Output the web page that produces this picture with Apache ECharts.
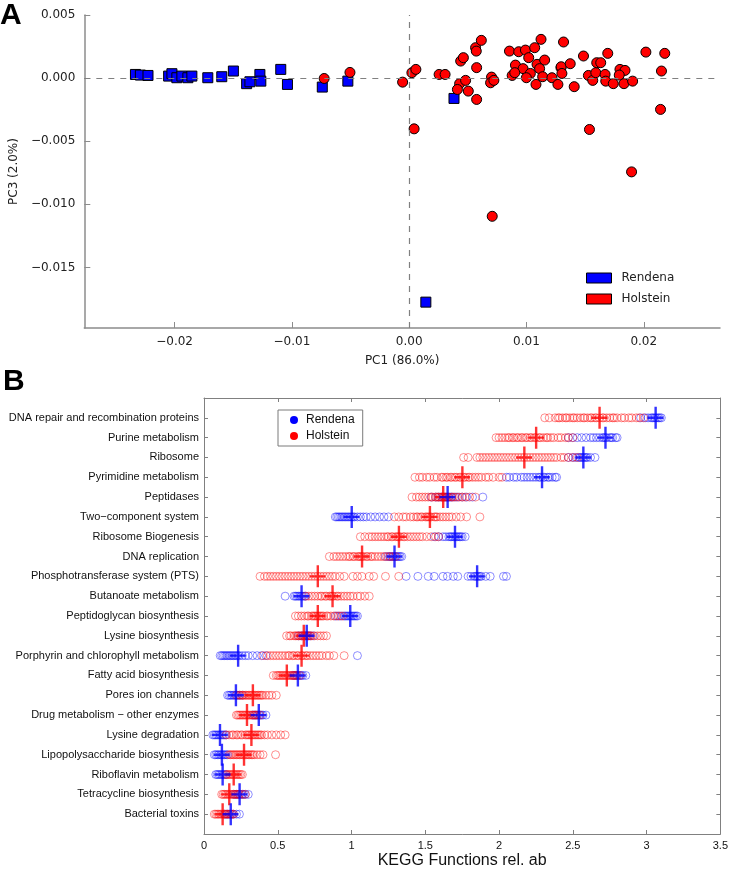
<!DOCTYPE html>
<html>
<head>
<meta charset="utf-8">
<script src="https://cdn.jsdelivr.net/npm/echarts@6/dist/echarts.min.js"></script>
<style>
html,body{margin:0;padding:0;background:#fff;}
#chart{width:731px;height:874px;}
</style>
</head>
<body>
<div id="chart"></div>
<script>
// ---------- Panel A : PCA ----------
const rendenaPC1 = [-0.02334,-0.02292,-0.02227,-0.02051,-0.02023,-0.01981,-0.01938,-0.01887,-0.01853,-0.01717,-0.01598,-0.01499,-0.01386,-0.01358,-0.01273,-0.01265,-0.01095,-0.01038,-0.00741,-0.00523,0.00382,0.00142];
const rendenaPC3 = [0.00029,0.00024,0.00021,0.00016,0.00035,0.00003,0.00016,0.00003,0.00016,0.00003,0.00011,0.00056,-0.00044,-0.00029,0.00029,-0.00024,0.00069,-0.0005,-0.00071,-0.00024,-0.00161,-0.01775];
const holsteinPC1 = [-0.00725,-0.00505,-0.00056,0.00023,0.00057,0.00042,0.00255,0.00306,0.00439,0.00462,0.00566,0.00572,0.00615,0.00575,0.0043,0.00481,0.00411,0.00504,0.00575,0.00702,0.00694,0.00722,0.00855,0.00934,0.00991,0.0107,0.01124,0.01019,0.00906,0.00971,0.01033,0.00878,0.009,0.00999,0.0109,0.01155,0.01112,0.01138,0.01081,0.01217,0.01268,0.01294,0.01316,0.01296,0.01302,0.01373,0.01407,0.01486,0.01528,0.01565,0.01591,0.01599,0.01633,0.0167,0.01676,0.0174,0.01693,0.01797,0.0184,0.01791,0.01831,0.01905,0.02018,0.02179,0.02151,0.02143,0.01537,0.01896,0.00708];
const holsteinPC3 = [-0.00003,0.00045,-0.00032,0.00043,0.00069,-0.00402,0.00029,0.00029,0.00135,0.00162,0.00241,0.00214,0.00299,0.00083,-0.00044,-0.00018,-0.0009,-0.00103,-0.00169,0.00008,-0.00037,-0.00018,0.00214,0.00209,0.00222,0.00241,0.00307,0.00162,0.00103,0.00075,0.00037,0.00021,0.00043,0.00003,0.00109,0.00143,0.00075,0.00011,-0.0005,0.00003,-0.0005,0.00083,0.00286,0.0009,0.00037,0.00114,-0.00068,0.00175,0.00021,-0.00018,0.00043,0.00122,0.00122,0.00029,-0.00024,-0.00044,0.00196,0.00069,0.00061,0.00024,-0.00044,-0.00024,0.00206,0.00196,0.00056,-0.00248,-0.00407,-0.00743,-0.01095];
const pcXTicks = [-0.02,-0.01,0,0.01,0.02];
const pcYTicks = [0.005,0,-0.005,-0.01,-0.015];

// ---------- Panel B : KEGG functions ----------
const categories = ["DNA repair and recombination proteins","Purine metabolism","Ribosome","Pyrimidine metabolism","Peptidases","Two\u2212component system","Ribosome Biogenesis","DNA replication","Phosphotransferase system (PTS)","Butanoate metabolism","Peptidoglycan biosynthesis","Lysine biosynthesis","Porphyrin and chlorophyll metabolism","Fatty acid biosynthesis","Pores ion channels","Drug metabolism \u2212 other enzymes","Lysine degradation","Lipopolysaccharide biosynthesis","Riboflavin metabolism","Tetracycline biosynthesis","Bacterial toxins"];
const rendenaMeans = [3.06,2.72,2.57,2.29,1.65,1.00,1.70,1.29,1.85,0.66,0.99,0.695,0.23,0.635,0.215,0.37,0.107,0.12,0.125,0.24,0.18];
const holsteinMeans = [2.68,2.25,2.17,1.75,1.62,1.53,1.32,1.07,0.77,0.87,0.77,0.675,0.66,0.56,0.33,0.29,0.32,0.27,0.20,0.17,0.125];
const rendenaPoints = [
 [2.96,2.99,3.01,3.03,3.04,3.05,3.06,3.07,3.08,3.09,3.10],
 [2.47,2.50,2.53,2.56,2.59,2.62,2.64,2.66,2.68,2.70,2.71,2.72,2.73,2.75,2.76,2.77,2.79,2.80],
 [2.47,2.50,2.52,2.54,2.55,2.56,2.57,2.58,2.59,2.60,2.62,2.65],
 [2.05,2.07,2.10,2.12,2.15,2.17,2.19,2.21,2.23,2.25,2.27,2.28,2.30,2.31,2.33,2.34,2.36,2.38,2.39],
 [1.54,1.57,1.59,1.61,1.62,1.63,1.64,1.65,1.66,1.67,1.68,1.70,1.72,1.75,1.78,1.82,1.89],
 [0.89,0.90,0.91,0.92,0.93,0.94,0.95,0.96,0.97,0.98,0.99,1.00,1.01,1.02,1.04,1.06,1.08,1.10,1.13,1.16,1.19,1.22,1.25],
 [1.56,1.59,1.62,1.64,1.66,1.67,1.68,1.69,1.70,1.71,1.72,1.73,1.74,1.75,1.77],
 [1.23,1.25,1.26,1.27,1.28,1.29,1.30,1.31,1.32,1.33,1.34],
 [1.37,1.45,1.52,1.56,1.62,1.65,1.69,1.72,1.79,1.81,1.83,1.84,1.85,1.86,1.87,1.88,1.91,1.94,2.03,2.05],
 [0.55,0.61,0.62,0.63,0.64,0.65,0.66,0.67,0.68,0.69],
 [0.89,0.91,0.93,0.95,0.96,0.97,0.98,0.99,1.00,1.01,1.02,1.03,1.04],
 [0.64,0.66,0.67,0.68,0.69,0.70,0.71,0.72,0.74],
 [0.11,0.12,0.13,0.14,0.15,0.16,0.17,0.18,0.19,0.20,0.21,0.22,0.23,0.24,0.26,0.28,0.30,0.33,0.36,0.39,0.42,1.04],
 [0.60,0.61,0.62,0.63,0.64,0.65,0.66,0.67,0.69],
 [0.16,0.17,0.18,0.19,0.20,0.21,0.22,0.23,0.24,0.26],
 [0.33,0.34,0.35,0.36,0.37,0.38,0.39,0.40,0.42],
 [0.06,0.07,0.08,0.09,0.10,0.11,0.12,0.13,0.14,0.15],
 [0.07,0.08,0.09,0.10,0.11,0.12,0.13,0.14,0.15,0.16],
 [0.08,0.09,0.10,0.11,0.12,0.13,0.14,0.15],
 [0.20,0.21,0.22,0.23,0.24,0.25,0.26,0.27,0.28,0.30],
 [0.14,0.15,0.16,0.17,0.18,0.19,0.20,0.22,0.24]
];
const holsteinPoints = [
 [2.31,2.34,2.38,2.40,2.41,2.43,2.45,2.46,2.48,2.50,2.51,2.53,2.55,2.57,2.58,2.60,2.62,2.63,2.65,2.66,2.68,2.70,2.71,2.73,2.75,2.77,2.78,2.80,2.83,2.85,2.88,2.90,2.93,2.95,2.98],
 [1.98,2.00,2.02,2.04,2.06,2.07,2.09,2.10,2.12,2.13,2.15,2.16,2.18,2.19,2.21,2.22,2.24,2.25,2.27,2.28,2.30,2.32,2.33,2.35,2.37,2.40,2.42,2.45,2.47,2.50],
 [1.76,1.79,1.85,1.87,1.89,1.91,1.93,1.95,1.97,1.99,2.01,2.03,2.05,2.07,2.09,2.11,2.13,2.15,2.17,2.19,2.21,2.23,2.25,2.27,2.29,2.31,2.33,2.35,2.37,2.39,2.42,2.44,2.47,2.50,2.53],
 [1.43,1.46,1.48,1.51,1.53,1.56,1.58,1.61,1.62,1.64,1.65,1.67,1.68,1.70,1.71,1.73,1.74,1.76,1.77,1.79,1.80,1.82,1.84,1.86,1.88,1.91,1.93,1.96,2.00,2.02],
 [1.41,1.44,1.46,1.48,1.50,1.52,1.54,1.55,1.57,1.58,1.59,1.60,1.61,1.62,1.63,1.64,1.65,1.66,1.68,1.69,1.71,1.73,1.75,1.77,1.80,1.84],
 [1.29,1.32,1.35,1.37,1.40,1.42,1.44,1.45,1.47,1.48,1.50,1.51,1.52,1.53,1.54,1.56,1.57,1.58,1.60,1.62,1.64,1.66,1.68,1.71,1.74,1.78,1.87],
 [1.06,1.09,1.12,1.14,1.16,1.18,1.20,1.22,1.24,1.25,1.27,1.28,1.30,1.31,1.32,1.33,1.35,1.36,1.38,1.40,1.42,1.44,1.46,1.48,1.51,1.54,1.57,1.59],
 [0.85,0.88,0.90,0.92,0.94,0.96,0.98,0.99,1.01,1.02,1.04,1.05,1.06,1.07,1.08,1.10,1.11,1.13,1.14,1.16,1.18,1.20,1.22,1.24,1.26,1.28,1.30],
 [0.38,0.41,0.43,0.45,0.47,0.49,0.51,0.53,0.55,0.57,0.59,0.61,0.63,0.65,0.67,0.69,0.71,0.73,0.75,0.77,0.79,0.81,0.83,0.85,0.87,0.89,0.92,0.95,1.01,1.04,1.07,1.12,1.15,1.23,1.32],
 [0.69,0.71,0.73,0.75,0.77,0.79,0.80,0.82,0.83,0.85,0.86,0.87,0.88,0.90,0.91,0.93,0.95,0.97,0.99,1.01,1.04,1.06,1.09,1.12],
 [0.62,0.64,0.66,0.68,0.70,0.71,0.73,0.74,0.75,0.76,0.77,0.78,0.79,0.80,0.81,0.83,0.84,0.86,0.88,0.90,0.92,0.94],
 [0.56,0.58,0.59,0.61,0.62,0.63,0.64,0.65,0.66,0.67,0.68,0.69,0.70,0.71,0.72,0.73,0.75,0.77,0.79,0.81,0.83],
 [0.40,0.43,0.45,0.47,0.49,0.51,0.53,0.55,0.57,0.58,0.60,0.61,0.63,0.64,0.66,0.67,0.69,0.70,0.72,0.74,0.76,0.78,0.80,0.83,0.85,0.88,0.95],
 [0.47,0.49,0.50,0.51,0.52,0.53,0.54,0.55,0.56,0.57,0.58,0.59,0.60,0.61,0.62,0.63,0.65],
 [0.22,0.24,0.25,0.26,0.27,0.28,0.29,0.30,0.31,0.32,0.33,0.34,0.35,0.36,0.37,0.38,0.39,0.40,0.42,0.44,0.46,0.49],
 [0.22,0.23,0.24,0.25,0.26,0.27,0.28,0.29,0.30,0.31,0.32,0.33,0.34,0.35,0.36,0.38],
 [0.15,0.17,0.19,0.20,0.22,0.23,0.25,0.26,0.28,0.29,0.30,0.31,0.32,0.33,0.34,0.35,0.36,0.37,0.38,0.39,0.41,0.43,0.46,0.49,0.52,0.55],
 [0.17,0.18,0.19,0.20,0.21,0.22,0.23,0.24,0.25,0.26,0.27,0.28,0.29,0.30,0.31,0.32,0.33,0.34,0.36,0.38,0.40,0.485],
 [0.15,0.16,0.17,0.18,0.19,0.20,0.21,0.22,0.23,0.24,0.25,0.26],
 [0.12,0.13,0.14,0.15,0.16,0.17,0.18,0.19,0.20,0.21,0.22,0.23,0.24,0.26,0.28],
 [0.07,0.08,0.09,0.10,0.11,0.12,0.13,0.14,0.15,0.16,0.17,0.18,0.19,0.20]
];
const keggXTicks = [0,0.5,1,1.5,2,2.5,3,3.5];

// ---------- build ----------
const chart = echarts.init(document.getElementById('chart'), null, {renderer:'canvas'});
const zip = (xs, ys) => xs.map((x,i)=>[x, ys[i]]);
const flat = (pts) => pts.flatMap((vals,i)=>vals.map(v=>[v, i+1]));
const means = (m) => m.map((v,i)=>[v, i+1]);
const rowIdx = categories.map((c,i)=>i+1);
const minus = s => s.replace('-', '\u2212');
const plusPath = 'path://M7,0H9.4V9.8H16V12.2H9.4V22H7V12.2H0V9.8H7Z';
const grayA = '#8c8c8c';
const grayB = '#808080';
const fontA = 'DejaVu Sans';
const fontB = 'Liberation Sans';

const option = {
  animation:false,
  backgroundColor:'#ffffff',
  grid:[
    {left:82, top:15, width:638, height:313},
    {left:204, top:398, width:519, height:436}
  ],
  xAxis:[
    {gridIndex:0, type:'value', min:-0.0277, max:0.0265,
     name:'PC1 (86.0%)', nameLocation:'middle', nameGap:27,
     nameTextStyle:{fontFamily:fontA, fontSize:12, color:'#222'},
     axisLine:{show:true, onZero:false, lineStyle:{color:grayA, width:1.5}},
     axisTick:{show:true, inside:true, length:6, customValues:pcXTicks, lineStyle:{color:grayA}},
     axisLabel:{customValues:pcXTicks, fontFamily:fontA, fontSize:12, color:'#222', margin:8,
       formatter:v=>minus(v.toFixed(2))},
     splitLine:{show:false}},
    {gridIndex:1, type:'value', min:0, max:3.5, position:'bottom',
     name:'KEGG Functions rel. ab', nameLocation:'middle', nameGap:19,
     nameTextStyle:{fontFamily:fontB, fontSize:16, color:'#111'},
     axisLine:{show:true, onZero:false, lineStyle:{color:grayB, width:1}},
     axisTick:{show:true, inside:true, length:4, customValues:keggXTicks, lineStyle:{color:grayB}},
     axisLabel:{customValues:keggXTicks, fontFamily:fontB, fontSize:11, color:'#111', margin:6,
       formatter:v=>String(v)},
     splitLine:{show:false}},
    {gridIndex:1, type:'value', min:0, max:3.5, position:'top',
     axisLine:{show:true, onZero:false, lineStyle:{color:grayB, width:1}},
     axisTick:{show:true, inside:true, length:4, customValues:keggXTicks, lineStyle:{color:grayB}},
     axisLabel:{show:false}, splitLine:{show:false}}
  ],
  yAxis:[
    {gridIndex:0, type:'value', min:-0.0198, max:0.005,
     name:'PC3 (2.0%)', nameLocation:'middle', nameGap:50, nameRotate:90,
     nameTextStyle:{fontFamily:fontA, fontSize:12, color:'#222'},
     axisLine:{show:true, onZero:false, lineStyle:{color:grayA, width:1.5}},
     axisTick:{show:true, inside:true, length:6, customValues:pcYTicks, lineStyle:{color:grayA}},
     axisLabel:{customValues:pcYTicks, fontFamily:fontA, fontSize:12, color:'#222', margin:9,
       formatter:v=>minus(v.toFixed(3))},
     splitLine:{show:false}},
    {gridIndex:1, type:'value', min:0, max:22, inverse:true, position:'left',
     axisLine:{show:true, onZero:false, lineStyle:{color:grayB, width:1}},
     axisTick:{show:true, inside:true, length:4, customValues:rowIdx, lineStyle:{color:grayB}},
     axisLabel:{customValues:rowIdx, fontFamily:fontB, fontSize:11, color:'#111', margin:5,
       formatter:v=>categories[Math.round(v)-1] || ''},
     splitLine:{show:false}},
    {gridIndex:1, type:'value', min:0, max:22, inverse:true, position:'right',
     axisLine:{show:true, onZero:false, lineStyle:{color:grayB, width:1}},
     axisTick:{show:true, inside:true, length:4, customValues:rowIdx, lineStyle:{color:grayB}},
     axisLabel:{show:false}, splitLine:{show:false}}
  ],
  legend:[
    {left:581, top:267, orient:'vertical', itemWidth:25, itemHeight:10, itemGap:9,
     textStyle:{fontFamily:fontA, fontSize:12, color:'#222', padding:[0,0,0,5]},
     selectedMode:false,
     data:[
       {name:'Rendena', icon:'rect', itemStyle:{color:'#0000ff', borderColor:'#000', borderWidth:1}},
       {name:'Holstein', icon:'rect', itemStyle:{color:'#ff0000', borderColor:'#000', borderWidth:1}}
     ]},
    {left:278, top:410, orient:'vertical', itemWidth:8, itemHeight:8, itemGap:4,
     padding:[4,8,4,12], borderColor:'#7a7a7a', borderWidth:1, backgroundColor:'#fff',
     textStyle:{fontFamily:fontB, fontSize:12, color:'#111', padding:[0,0,0,3]},
     selectedMode:false,
     data:[
       {name:'Rendena', icon:'circle', itemStyle:{color:'#0000ff', borderWidth:0}},
       {name:'Holstein', icon:'circle', itemStyle:{color:'#ff0000', borderWidth:0}}
     ]}
  ],
  graphic:[
    {type:'text', left:0, top:1, style:{text:'A', fontFamily:fontB, fontWeight:'bold', fontSize:30, fill:'#000'}},
    {type:'text', left:3, top:367, style:{text:'B', fontFamily:fontB, fontWeight:'bold', fontSize:30, fill:'#000'}}
  ],
  series:[
    {name:'Rendena', type:'scatter', xAxisIndex:0, yAxisIndex:0, data:zip(rendenaPC1, rendenaPC3),
     symbol:'rect', symbolSize:10, z:3,
     itemStyle:{color:'#0000ff', borderColor:'#000', borderWidth:1, opacity:1},
     markLine:{silent:true, symbol:'none', animation:false, label:{show:false},
       lineStyle:{color:'#808080', type:[6,6], width:1.2},
       data:[{xAxis:0},{yAxis:0}]}},
    {name:'Holstein', type:'scatter', xAxisIndex:0, yAxisIndex:0, data:zip(holsteinPC1, holsteinPC3),
     symbol:'circle', symbolSize:10, z:4,
     itemStyle:{color:'#ff0000', borderColor:'#000', borderWidth:1, opacity:1}},
    {name:'Rendena', type:'scatter', xAxisIndex:1, yAxisIndex:1, data:flat(rendenaPoints),
     symbol:'circle', symbolSize:8, z:3,
     itemStyle:{color:'rgba(0,0,0,0)', borderColor:'rgba(0,0,255,0.55)', borderWidth:1}},
    {name:'Holstein', type:'scatter', xAxisIndex:1, yAxisIndex:1, data:flat(holsteinPoints),
     symbol:'circle', symbolSize:8, z:4,
     itemStyle:{color:'rgba(0,0,0,0)', borderColor:'rgba(255,0,0,0.55)', borderWidth:1}},
    {name:'Holstein mean', type:'scatter', xAxisIndex:1, yAxisIndex:1, data:means(holsteinMeans),
     symbol:plusPath, symbolSize:[16,22], z:5, itemStyle:{color:'#ff0000'}},
    {name:'Rendena mean', type:'scatter', xAxisIndex:1, yAxisIndex:1, data:means(rendenaMeans),
     symbol:plusPath, symbolSize:[16,22], z:6, itemStyle:{color:'#0000ff'}}
  ]
};
chart.setOption(option);
</script>
</body>
</html>
